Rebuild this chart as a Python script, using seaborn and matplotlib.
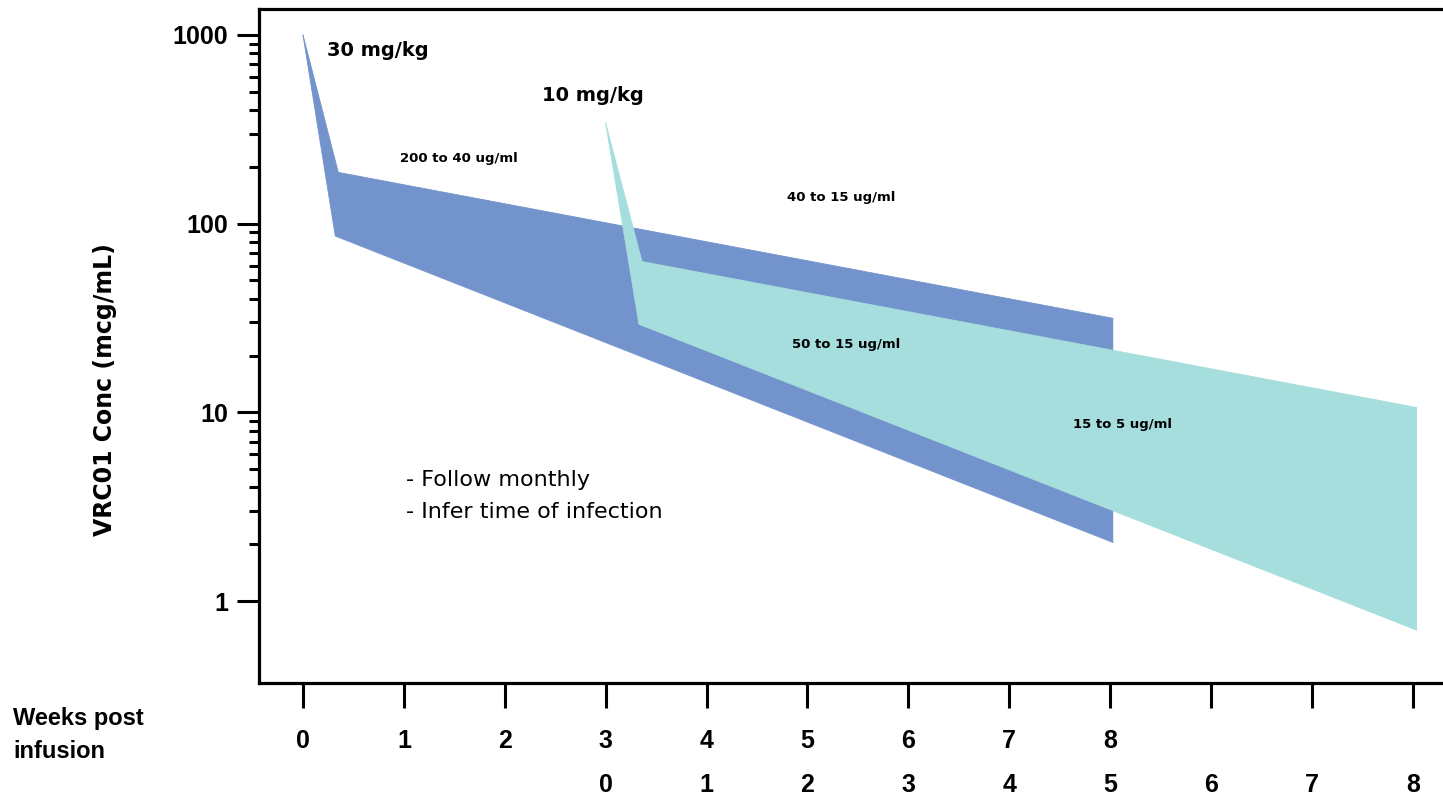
import numpy as np
import pandas as pd
import matplotlib
matplotlib.use("Agg")
import matplotlib.pyplot as plt
from matplotlib.ticker import FixedLocator, NullFormatter
import seaborn as sns

# ---------------- data ----------------
# 30 mg/kg band (weeks post infusion, concentration mcg/mL)
band30_upper_x = [0.0, 0.35, 8.03]
band30_upper_y = [1000, 187, 31.5]
band30_lower_x = [0.0, 0.32, 8.03]
band30_lower_y = [1000, 86, 2.04]

# 10 mg/kg band (on the same week axis, infused at week 3)
band10_upper_x = [3.0, 3.36, 11.04]
band10_upper_y = [341, 63, 10.6]
band10_lower_x = [3.0, 3.33, 11.04]
band10_lower_y = [341, 29.3, 0.70]

x_ticks = list(range(12))
row1_labels = ["0", "1", "2", "3", "4", "5", "6", "7", "8", "", "", ""]
row2_ticks = list(range(9))          # weeks after 10 mg/kg infusion
row2_offset = 3
y_major = [1, 10, 100, 1000]
y_major_labels = ["1", "10", "100", "1000"]

dose_labels = ["30 mg/kg", "10 mg/kg"]
range_labels = ["200 to 40 ug/ml", "40 to 15 ug/ml", "50 to 15 ug/ml", "15 to 5 ug/ml"]
notes = ["- Follow monthly", "- Infer time of infection"]

BLUE = "#7393CC"
TEAL = "#A5DEDD"

# ---------------- style ----------------
sns.set_theme(style="white")
plt.rcParams["font.family"] = ["Liberation Sans", "DejaVu Sans"]
plt.rcParams["text.color"] = "black"
plt.rcParams["xtick.color"] = "black"
plt.rcParams["ytick.color"] = "black"
plt.rcParams["axes.labelcolor"] = "black"

W, H = 1443, 798
fig = plt.figure(figsize=(W / 100, H / 100), dpi=100)
ax = fig.add_axes([259 / W, 1 - 683 / H, 1 - 259 / W, (683 - 9) / H])

def band(ax, ux, uy, lx, ly, color):
    xs = list(ux) + list(lx[::-1])
    ys = list(uy) + list(ly[::-1])
    ax.fill(xs, ys, color=color, linewidth=0, zorder=2)
    df = pd.DataFrame({"x": list(ux) + list(lx), "y": list(uy) + list(ly),
                       "edge": ["u"] * len(ux) + ["l"] * len(lx)})
    sns.lineplot(data=df, x="x", y="y", units="edge", estimator=None,
                 color=color, lw=0.6, ax=ax, zorder=2, sort=False)

band(ax, band30_upper_x, band30_upper_y, band30_lower_x, band30_lower_y, BLUE)
band(ax, band10_upper_x, band10_upper_y, band10_lower_x, band10_lower_y, TEAL)

ax.set_yscale("log")
ax.set_xlim(-0.436, -0.436 + (W - 259) / 100.9)
ax.set_ylim(10 ** (-(683 - 601) / 188.7), 10 ** (3 + (35 - 9) / 188.7))
ax.set_xlabel("")
ax.set_ylabel("")

# spines
for s in ["left", "bottom", "top"]:
    ax.spines[s].set_visible(True)
    ax.spines[s].set_linewidth(2.3)
    ax.spines[s].set_color("black")
ax.spines["right"].set_visible(False)

# y ticks
ax.yaxis.set_major_locator(FixedLocator(y_major))
ax.set_yticklabels(y_major_labels)
minor = [m * 10 ** d for d in range(0, 3) for m in range(2, 10)]
ax.yaxis.set_minor_locator(FixedLocator(minor))
ax.yaxis.set_minor_formatter(NullFormatter())
ax.tick_params(axis="y", which="major", direction="out", length=16, width=2.2,
               color="black", labelcolor="black", left=True, pad=6, labelsize=18)
ax.tick_params(axis="y", which="minor", direction="out", length=7.5, width=2.2,
               color="black", left=True)
for t in ax.get_yticklabels():
    t.set_fontweight("bold")

# x ticks row 1
ax.set_xticks(x_ticks)
ax.set_xticklabels(row1_labels)
ax.tick_params(axis="x", which="major", direction="out", length=18, width=2.2,
               color="black", labelcolor="black", bottom=True, pad=15, labelsize=18)
for t in ax.get_xticklabels():
    t.set_fontweight("bold")

# x ticks row 2 (weeks after 10 mg/kg infusion)
sec = ax.secondary_xaxis("bottom", functions=(lambda x: x - row2_offset,
                                               lambda x: x + row2_offset))
sec.set_xticks(row2_ticks)
sec.set_xticklabels([str(v) for v in row2_ticks])
sec.spines["bottom"].set_visible(False)
sec.tick_params(axis="x", length=0, pad=65, labelsize=18, labelcolor="black")
for t in sec.get_xticklabels():
    t.set_fontweight("bold")

# annotations (inside axes, data coordinates)
ann_font = ["DejaVu Sans"]
ax.text(0.238, 771, dose_labels[0], fontsize=14, fontweight="bold",
        family=ann_font, va="baseline", ha="left", color="black")
ax.text(2.37, 449, dose_labels[1], fontsize=14, fontweight="bold",
        family=ann_font, va="baseline", ha="left", color="black")
ax.text(0.96, 211, range_labels[0], fontsize=9.5, fontweight="bold",
        family=ann_font, va="baseline", ha="left", color="black")
ax.text(4.80, 132, range_labels[1], fontsize=9.5, fontweight="bold",
        family=ann_font, va="baseline", ha="left", color="black")
ax.text(4.85, 21.9, range_labels[2], fontsize=9.5, fontweight="bold",
        family=ann_font, va="baseline", ha="left", zorder=5, color="black")
ax.text(7.63, 8.24, range_labels[3], fontsize=9.5, fontweight="bold",
        family=ann_font, va="baseline", ha="left", zorder=5, color="black")
ax.text(1.02, 4.09, notes[0], fontsize=16, family=ann_font,
        va="baseline", ha="left", color="black")
ax.text(1.02, 2.75, notes[1], fontsize=16, family=ann_font,
        va="baseline", ha="left", color="black")

# axis titles (figure coordinates)
fig.text(105 / W, 1 - 390 / H, "VRC01 Conc (mcg/mL)", rotation=90,
         fontsize=17, fontweight="bold", family=["DejaVu Sans"],
         ha="center", va="center", color="black")
fig.text(13 / W, 1 - 725 / H, "Weeks post", fontsize=17, fontweight="bold",
         ha="left", va="baseline", color="black")
fig.text(13 / W, 1 - 758 / H, "infusion", fontsize=17, fontweight="bold",
         ha="left", va="baseline", color="black")

fig.savefig("out.png", dpi=100, facecolor="white")
